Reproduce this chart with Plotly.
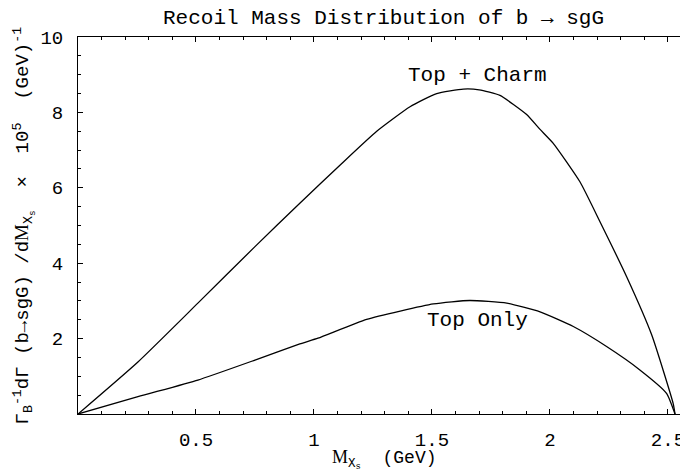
import plotly.graph_objects as go

# Data
x_top_charm = [0, 0.254, 0.508, 0.75, 0.94, 1.11, 1.266, 1.407, 1.52, 1.633, 1.70, 1.788, 1.90, 1.958, 2.014, 2.127, 2.212, 2.325, 2.431, 2.522, 2.53]
y_top_charm = [0, 1.38, 2.94, 4.44, 5.59, 6.60, 7.50, 8.15, 8.50, 8.62, 8.60, 8.45, 7.95, 7.55, 7.18, 6.16, 5.10, 3.64, 2.10, 0.28, 0]

x_top_only = [0, 0.254, 0.508, 0.75, 0.94, 1.017, 1.223, 1.506, 1.66, 1.817, 1.958, 2.099, 2.24, 2.381, 2.494, 2.53]
y_top_only = [0, 0.46, 0.90, 1.43, 1.86, 2.01, 2.51, 2.92, 3.01, 2.94, 2.71, 2.32, 1.79, 1.17, 0.55, 0]

x_tickvals = [0.5, 1, 1.5, 2, 2.5]
x_ticktext = ["0.5", "1", "1.5", "2", "2.5"]
y_tickvals = [2, 4, 6, 8, 10]
y_ticktext = ["2", "4", "6", "8", "10"]

labels = ["Top + Charm", "Top Only"]
label_x = [1.695, 1.695]
label_y = [8.99, 2.47]

MONO = "'Liberation Mono', 'DejaVu Sans Mono', monospace"
SERIF = "'Liberation Serif', 'DejaVu Serif', serif"

fig = go.Figure()
fig.add_trace(go.Scatter(x=x_top_charm, y=y_top_charm, mode="lines",
                         line=dict(color="black", width=1.3, shape="spline", smoothing=0.5),
                         showlegend=False))
fig.add_trace(go.Scatter(x=x_top_only, y=y_top_only, mode="lines",
                         line=dict(color="black", width=1.3, shape="spline", smoothing=0.5),
                         showlegend=False))

for t, lx, ly in zip(labels, label_x, label_y):
    fig.add_annotation(x=lx, y=ly, text=t, showarrow=False,
                       font=dict(family=MONO, size=21, color="black"))

fig.add_annotation(xref="paper", yref="paper", x=0.5, y=1.0, yshift=19,
                   text="Recoil Mass Distribution of b → sgG", showarrow=False,
                   font=dict(family=MONO, size=21, color="black"),
                   xanchor="center", yanchor="middle")

fig.add_annotation(xref="paper", yref="paper", x=(330 - 78) / 610, y=0, yshift=-45,
                   text=f"<span style=\"font-family:{SERIF}\">M</span><sub>X<sub>s</sub></sub>  (GeV)",
                   showarrow=False, font=dict(family=MONO, size=18, color="black"),
                   xanchor="left", yanchor="middle")

fig.add_annotation(xref="paper", yref="paper", x=(24 - 78) / 610, y=0.5,
                   textangle=-90,
                   text="Γ<sub>B</sub><sup>-1</sup>dΓ (b→sgG) /d<span style=\"font-family:" + SERIF + "\">M</span><sub>X<sub>s</sub></sub>  ×  10<sup>5</sup>  (GeV)<sup>-1</sup>",
                   showarrow=False, font=dict(family=MONO, size=19, color="black"),
                   xanchor="center", yanchor="middle")

fig.update_xaxes(range=[0, 2.585], tickvals=x_tickvals, ticktext=x_ticktext,
                 ticks="inside", ticklen=5, tickcolor="black", tickwidth=1,
                 minor=dict(dtick=0.1, tick0=0, ticks="inside", ticklen=3, tickcolor="black", tickwidth=1),
                 showline=True, linecolor="black", linewidth=1, mirror="allticks",
                 showgrid=False, zeroline=False, ticklabelstandoff=8, automargin=False,
                 tickfont=dict(family=MONO, size=19, color="black"))
fig.update_yaxes(range=[0, 10], tickvals=y_tickvals, ticktext=y_ticktext,
                 ticks="inside", ticklen=5, tickcolor="black", tickwidth=1,
                 minor=dict(dtick=0.5, tick0=0, ticks="inside", ticklen=3, tickcolor="black", tickwidth=1),
                 showline=True, linecolor="black", linewidth=1, mirror="allticks",
                 showgrid=False, zeroline=False, ticklabelstandoff=10, automargin=False,
                 tickfont=dict(family=MONO, size=19, color="black"))

# page body has an 8px margin, so the figure is 680x463 and offset accordingly
fig.update_layout(width=680, height=463,
                  margin=dict(l=70, r=0, t=29, b=57, autoexpand=False),
                  plot_bgcolor="white", paper_bgcolor="white")

fig.write_html("out.html")
